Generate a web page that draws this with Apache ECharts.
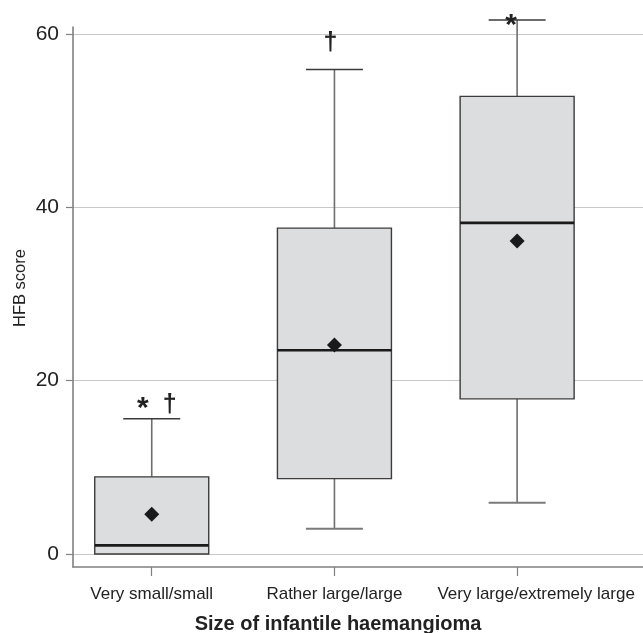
<!DOCTYPE html>
<html>
<head>
<meta charset="utf-8">
<script src="https://cdn.jsdelivr.net/npm/echarts@6/dist/echarts.min.js"></script>
<style>html,body{margin:0;padding:0;background:#fff}#c{width:643px;height:633px}</style>
</head>
<body>
<div id="c"></div>
<script>
const categories = ['Very small/small', 'Rather large/large', 'Very large/extremely large'];
const whiskerLow = [0, 2.9, 5.9];
const q1 = [0, 8.7, 17.9];
const median = [1.0, 23.5, 38.2];
const q3 = [8.9, 37.6, 52.8];
const whiskerHigh = [15.6, 55.9, 61.6];
const means = [4.6, 24.1, 36.1];
const yTicks = [0, 20, 40, 60];
const starAt = [17.6, null, 61.7];
const daggerAt = [17.2, 58.9, null];

const FONT = '"Liberation Sans", Arial, sans-serif';
const boxData = categories.map((c, i) => [i, whiskerLow[i], q1[i], median[i], q3[i], whiskerHigh[i]]);
const meanData = categories.map((c, i) => [i, means[i]]);
const annData = [];
categories.forEach((c, i) => {
  const both = starAt[i] != null && daggerAt[i] != null;
  if (starAt[i] != null) annData.push([i, starAt[i], '*', both ? -9 : -6]);
  if (daggerAt[i] != null) annData.push([i, daggerAt[i], '\u2020', both ? 18 : -4]);
});

const chart = echarts.init(document.getElementById('c'));
chart.setOption({
  animation: false,
  grid: { left: 73, right: 0, top: 27, bottom: 66 },
  xAxis: {
    type: 'value', min: -0.431, max: 2.689,
    axisLine: { show: true, onZero: false, lineStyle: { color: '#808080', width: 1.6 } },
    axisTick: { show: true, customValues: [0, 1, 2], length: 9, lineStyle: { color: '#808080', width: 1.2 } },
    axisLabel: {
      customValues: [0, 1, 2], margin: 19, color: '#222', fontSize: 17, fontFamily: FONT,
      formatter: v => v === 2 ? '{g|}{t|' + categories[v] + '}' : categories[v],
      rich: { g: { width: 38 }, t: { color: '#222', fontSize: 17, fontFamily: FONT } }
    },
    splitLine: { show: false }
  },
  yAxis: {
    type: 'value', min: -1.5, max: 60.8,
    axisLine: { show: true, onZero: false, lineStyle: { color: '#808080', width: 1.6 } },
    axisTick: { show: true, customValues: yTicks, length: 7, lineStyle: { color: '#808080', width: 1.2 } },
    axisLabel: { customValues: yTicks, margin: 14, color: '#222', fontSize: 21, fontFamily: FONT },
    splitLine: { show: true, lineStyle: { color: '#c8c8c8', width: 1 } }
  },
  graphic: [
    { type: 'text', x: 338, y: 624, style: { text: 'Size of infantile haemangioma', font: 'bold 20px ' + FONT, fill: '#222', textAlign: 'center', textVerticalAlign: 'middle' } },
    { type: 'text', x: 20, y: 288, rotation: Math.PI / 2, style: { text: 'HFB score', font: '16.5px ' + FONT, fill: '#222', textAlign: 'center', textVerticalAlign: 'middle' } }
  ],
  series: [
    {
      type: 'custom', data: boxData, clip: false, z: 2,
      renderItem: (params, api) => {
        const i = api.value(0);
        const cx = api.coord([i, 0])[0];
        const w = api.size([1, 0])[0] * 0.624;
        const cw = w / 2;
        const y = k => api.coord([i, api.value(k)])[1];
        const yLo = y(1), yQ1 = y(2), yMed = y(3), yQ3 = y(4), yHi = y(5);
        const ch = [];
        const wl = { stroke: '#6e6e6e', lineWidth: 1.6 };
        if (yLo - yQ1 > 0.5) {
          ch.push({ type: 'line', shape: { x1: cx, y1: yQ1, x2: cx, y2: yLo }, style: wl });
          ch.push({ type: 'line', shape: { x1: cx - cw / 2, y1: yLo, x2: cx + cw / 2, y2: yLo }, style: { stroke: '#7a7a7a', lineWidth: 2 } });
        }
        ch.push({ type: 'line', shape: { x1: cx, y1: yHi, x2: cx, y2: yQ3 }, style: wl });
        ch.push({ type: 'line', shape: { x1: cx - cw / 2, y1: yHi, x2: cx + cw / 2, y2: yHi }, style: { stroke: '#3a3a3a', lineWidth: 1.6 } });
        ch.push({ type: 'rect', shape: { x: cx - w / 2, y: yQ3, width: w, height: yQ1 - yQ3 }, style: { fill: '#dcdddf', stroke: '#3c3c3c', lineWidth: 1.4 } });
        ch.push({ type: 'line', shape: { x1: cx - w / 2, y1: yMed, x2: cx + w / 2, y2: yMed }, style: { stroke: '#1a1a1a', lineWidth: 2.6 } });
        return { type: 'group', children: ch };
      }
    },
    {
      type: 'scatter', data: meanData, symbol: 'diamond', symbolSize: [15, 15], z: 3,
      itemStyle: { color: '#1a1a1a', opacity: 1 }
    },
    {
      type: 'custom', data: annData, clip: false, z: 4,
      renderItem: (params, api) => {
        const p = api.coord([api.value(0), api.value(1)]);
        const d = annData[params.dataIndex];
        const isStar = d[2] === '*';
        return {
          type: 'text', x: p[0] + d[3], y: p[1] + (isStar ? 7 : 0),
          style: { text: d[2], font: (isStar ? 'bold 30px ' : 'bold 25px ') + FONT, fill: '#222', textAlign: 'center', textVerticalAlign: 'middle' }
        };
      }
    }
  ]
});
</script>
</body>
</html>
